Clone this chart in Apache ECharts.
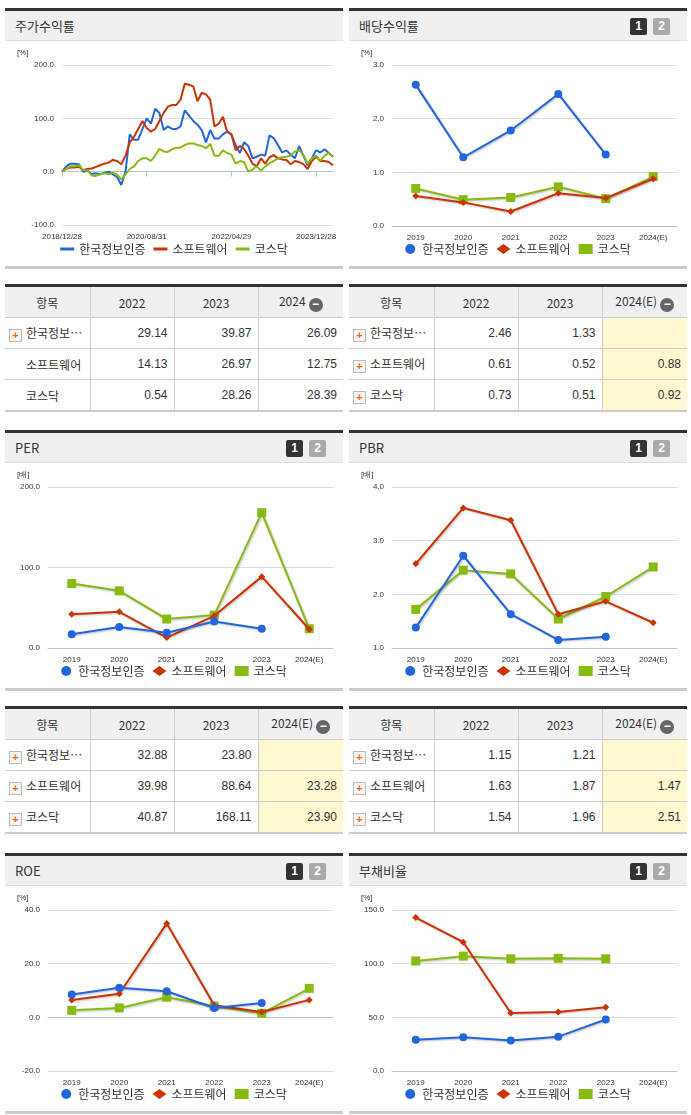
<!DOCTYPE html>
<html><head><meta charset="utf-8">
<script src="https://cdn.jsdelivr.net/npm/echarts@6/dist/echarts.min.js"></script>
<style>
body{margin:0;background:#fff;font-family:"Noto Sans CJK KR",sans-serif;width:691px;height:1115px;position:relative;overflow:hidden}
.hd{position:absolute;height:29px;background:#f0f0f0;border-top:3px solid #333;border-bottom:1px solid #ddd;font-size:13px;color:#333;line-height:29px;padding-left:10px;box-sizing:content-box}
.btn{position:absolute;top:7px;width:17px;height:17px;font:bold 12px Arial;color:#fff;text-align:center;line-height:17px;border-radius:2px}
.ch{position:absolute}
.foot{position:absolute;height:3px;background:#ccc}
table{position:absolute;border-collapse:collapse;font-size:12px;border-top:3px solid #333;border-bottom:2px solid #ccc;table-layout:fixed}
td,th{border:1px solid #ccc;height:30px;padding:0 6px;color:#333}
th{background:#f0f0f0;font-weight:normal;text-align:center}
td{text-align:right;font-family:"Liberation Sans",sans-serif;font-size:12px}
td.n{text-align:left;font-family:"Noto Sans CJK KR";white-space:nowrap;overflow:hidden;padding-left:4px}
tr td:first-child,tr th:first-child{border-left:none}
tr td:last-child,tr th:last-child{border-right:none}
td.y{background:#fff8d0}
.pl{display:inline-block;width:11px;height:11px;border:1px solid #bbb;background:#f6f6f6;color:#f60;font:bold 11px Arial;line-height:10px;text-align:center;margin-right:4px;vertical-align:-1px}
.mi{display:inline-block;width:14px;height:14px;border-radius:7px;background:#666;color:#fff;font:bold 12px Arial;line-height:13px;text-align:center;vertical-align:-2px;margin-left:3px}
</style></head><body>
<div id="root"></div>
<script>
// 주가수익률 (monthly, 2018/12 ~ 2024/04)
const stockTicks = {0:'2018/12/28',20:'2020/08/31',40:'2022/04/29',60:'2023/12/28'};
const stockInfo = [0,10,15,15,14,0,2,-5,-3,-5,-2,0,-5,-10,-25,0,70,60,60,80,100,90,118,110,78,85,80,80,85,115,105,95,88,78,55,78,62,62,70,75,70,50,35,55,48,25,28,32,30,68,63,50,36,40,32,25,48,30,12,25,40,36,42,35,28];
const stockSw = [0,5,8,8,9,3,5,6,9,12,15,17,22,20,14,30,55,65,80,95,82,75,80,95,110,122,125,125,135,165,163,160,132,148,145,135,85,90,103,75,70,40,48,43,30,15,10,25,15,27,31,25,23,22,14,20,18,14,5,20,28,20,20,18,12];
const stockKq = [0,5,10,10,12,3,2,-7,-8,-5,-3,-5,-2,-5,-15,-5,5,10,20,25,25,20,30,43,38,37,42,45,45,50,53,53,50,48,44,52,30,30,40,35,32,15,20,18,0,4,10,2,10,16,20,25,27,28,30,38,40,32,15,25,30,20,30,35,28];
const stockDates = stockInfo.map((v, i) => { const m = 11 + i; return (2018 + Math.floor(m / 12)) + '/' + String(m % 12 + 1).padStart(2, '0'); });

const years = ['2019','2020','2021','2022','2023','2024(E)'];
const names = ['한국정보인증','소프트웨어','코스닥'];

const divInfo = [2.63,1.28,1.78,2.46,1.33,null];
const divSw = [0.56,0.44,0.27,0.61,0.52,0.88];
const divKq = [0.70,0.49,0.53,0.73,0.51,0.92];

const perInfo = [17,26,19,32.88,23.80,null];
const perSw = [42,45,13,39.98,88.64,23.28];
const perKq = [80,71,36,40.87,168.11,23.90];

const pbrInfo = [1.38,2.72,1.63,1.15,1.21,null];
const pbrSw = [2.57,3.61,3.38,1.63,1.87,1.47];
const pbrKq = [1.72,2.45,2.38,1.54,1.96,2.51];

const roeInfo = [8.5,11,9.7,3.5,5.3,null];
const roeSw = [6.5,8.8,35,4.5,2,6.5];
const roeKq = [2.6,3.5,7.5,4.2,1.5,10.8];

const debtInfo = [29,31.5,28.5,32,48,null];
const debtSw = [143,120,54,55,59.5,null];
const debtKq = [102.5,107,104.5,105,104.5,null];

// tables
const tblStock = {cols:['2022','2023','2024'], rows:[['29.14','39.87','26.09'],['14.13','26.97','12.75'],['0.54','28.26','28.39']], plus:[true,false,false], yellow:false};
const tblDiv = {cols:['2022','2023','2024(E)'], rows:[['2.46','1.33',''],['0.61','0.52','0.88'],['0.73','0.51','0.92']], plus:[true,true,true], yellow:true};
const tblPer = {cols:['2022','2023','2024(E)'], rows:[['32.88','23.80',''],['39.98','88.64','23.28'],['40.87','168.11','23.90']], plus:[true,true,true], yellow:true};
const tblPbr = {cols:['2022','2023','2024(E)'], rows:[['1.15','1.21',''],['1.63','1.87','1.47'],['1.54','1.96','2.51']], plus:[true,true,true], yellow:true};

const colors = ['#2266dd','#cc3300','#88bb11'];
const root = document.getElementById('root');

function panel(x, y, title, btns, chartH) {
    let h = `<div class="hd" style="left:${x}px;top:${y}px;width:${328}px">${title}`;
    if (btns) {
        h += `<div class="btn" style="left:${281}px;background:#333">1</div><div class="btn" style="left:${304}px;background:#aaa">2</div>`;
    }
    h += `</div><div class="foot" style="left:${x}px;top:${y + 33 + chartH}px;width:338px"></div>`;
    root.insertAdjacentHTML('beforeend', h);
    const d = document.createElement('div');
    d.className = 'ch';
    d.style.cssText = `left:${x}px;top:${y + 33}px;width:338px;height:${chartH}px`;
    root.appendChild(d);
    return d;
}

function table(x, y, t) {
    let h = `<table style="left:${x}px;top:${y}px;width:338px"><colgroup><col style="width:85px"><col style="width:84px"><col style="width:84px"><col style="width:85px"></colgroup>`;
    h += `<tr><th>항목</th>${t.cols.map((c, i) => `<th>${c}${i === 2 ? '<span class="mi">−</span>' : ''}</th>`).join('')}</tr>`;
    t.rows.forEach((r, i) => {
        const nm = i === 0 ? '한국정보…' : names[i];
        h += `<tr><td class="n">${t.plus[i] ? '<span class="pl">+</span>' : '<span style="display:inline-block;width:17px"></span>'}${nm}</td>`;
        h += r.map((v, j) => `<td class="${j === 2 && t.yellow ? 'y' : ''}">${v}</td>`).join('') + '</tr>';
    });
    h += '</table>';
    root.insertAdjacentHTML('beforeend', h);
}

const axisTxt = { fontSize: 8, color: '#333', fontFamily: 'Liberation Sans' };

function legend(icons) {
    return {
        bottom: 6, left: 'center', itemGap: 8, itemWidth: 14, itemHeight: 10,
        textStyle: { fontSize: 12, color: '#333', fontFamily: 'Noto Sans CJK KR' },
        data: names.map((n, i) => ({ name: n, icon: icons[i] }))
    };
}

function yearChart(el, unit, min, max, step, data) {
    const ch = echarts.init(el);
    const sym = ['circle', 'diamond', 'rect'];
    const sz = [8, 7, 9];
    ch.setOption({
        animation: false,
        grid: { left: 43, right: 10, top: 24, bottom: 40 },
        legend: legend(sym),
        graphic: [{ type: 'text', left: 12, top: 8, style: { text: unit, fontSize: 8, fill: '#333' } }],
        xAxis: {
            type: 'category', data: years, boundaryGap: true,
            axisLine: { lineStyle: { color: '#b0c4de' } }, axisTick: { lineStyle: { color: '#b0c4de' }, length: 5 },
            axisLabel: axisTxt
        },
        yAxis: {
            type: 'value', min: min, max: max, interval: step,
            axisLabel: Object.assign({ formatter: v => v.toFixed(1) }, axisTxt),
            splitLine: { lineStyle: { color: '#ddd' } }, axisLine: { show: false }
        },
        series: data.map((d, i) => ({
            name: names[i], type: 'line', data: d, symbol: sym[i], symbolSize: sz[i],
            lineStyle: { width: 2, color: colors[i], shadowColor: 'rgba(0,0,0,0.25)', shadowOffsetX: 1, shadowOffsetY: 1, shadowBlur: 2 },
            itemStyle: { color: colors[i] }, z: 3 - i
        }))
    });
}

// 주가수익률
const c1 = panel(5, 8, '주가수익률', false, 225);
table(5, 284, tblStock);
const stockChart = echarts.init(c1);
stockChart.setOption({
    animation: false,
    grid: { left: 57, right: 10, top: 24, bottom: 41 },
    legend: Object.assign(legend(['rect', 'rect', 'rect']), { itemHeight: 3, itemWidth: 14 }),
    graphic: [{ type: 'text', left: 12, top: 8, style: { text: '[%]', fontSize: 8, fill: '#333' } }],
    xAxis: {
        type: 'category', data: stockDates, boundaryGap: false,
        axisLine: { lineStyle: { color: '#b0c4de' } },
        axisTick: { interval: i => i % 20 === 0, length: 5, lineStyle: { color: '#b0c4de' } },
        axisLabel: Object.assign({ interval: i => i in stockTicks, formatter: (v, i) => stockTicks[i] || '' }, axisTxt)
    },
    yAxis: {
        type: 'value', min: -100, max: 200, interval: 100,
        axisLabel: Object.assign({ formatter: v => v.toFixed(1) }, axisTxt),
        splitLine: { lineStyle: { color: '#ddd' } }
    },
    series: [stockInfo, stockSw, stockKq].map((d, i) => ({
        name: names[i], type: 'line', data: d, symbol: 'none',
        lineStyle: { width: 2, color: colors[i] }, itemStyle: { color: colors[i] }
    }))
});

yearChart(panel(349, 8, '배당수익률', true, 225), '[%]', 0, 3, 1, [divInfo, divSw, divKq]);
table(349, 284, tblDiv);

yearChart(panel(5, 430, 'PER', true, 225), '[배]', 0, 200, 100, [perInfo, perSw, perKq]);
table(5, 706, tblPer);

yearChart(panel(349, 430, 'PBR', true, 225), '[배]', 1, 4, 1, [pbrInfo, pbrSw, pbrKq]);
table(349, 706, tblPbr);

yearChart(panel(5, 853, 'ROE', true, 225), '[%]', -20, 40, 20, [roeInfo, roeSw, roeKq]);
yearChart(panel(349, 853, '부채비율', true, 225), '[%]', 0, 150, 50, [debtInfo, debtSw, debtKq]);
</script>
</body></html>
